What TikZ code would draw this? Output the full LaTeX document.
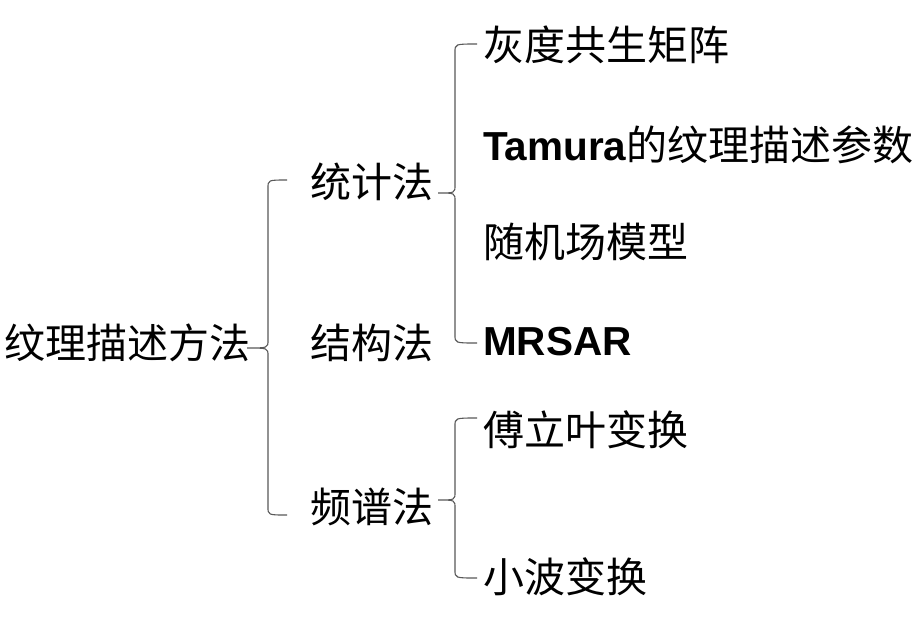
\documentclass[tikz,border=0pt]{standalone}
\usepackage{fontspec}
\setmainfont{Liberation Sans}
\newfontfamily\cjk{Noto Sans CJK SC}
\newfontfamily\latb[BoldFont={Liberation Sans Bold}]{Liberation Sans}
\newcommand\latbig{\fontsize{40.5}{40}\selectfont\latb\bfseries}
\begin{document}
\begin{tikzpicture}[x=1pt,y=-1pt,
  lbl/.style={anchor=base west,inner sep=0pt,font=\fontsize{41}{41}\selectfont\cjk},
  brace/.style={draw=black!65,line width=1.1pt}]
\useasboundingbox[fill=white] (0,0) rectangle (923,619);
\node[lbl] (root) at (4,358) {纹理描述方法};
\node[lbl] (stat) at (310,197) {统计法};
\node[lbl] (struct) at (310,358) {结构法};
\node[lbl] (spec) at (310,522) {频谱法};
\node[lbl] (glcm) at (483,60) {灰度共生矩阵};
\node[lbl] (tam) at (483,160) {{\latbig Tamura}的纹理描述参数};
\node[lbl] (rand) at (483,257) {随机场模型};
\node[lbl] (mrsar) at (483,355) {\latbig MRSAR};
\node[lbl] (four) at (483,445) {傅立叶变换};
\node[lbl] (wave) at (483,592) {小波变换};
% brace 1
\coordinate (t1) at (247,348);
\draw[brace] (287,180) .. controls (268,180) .. (268,188) -- (268,340)
  .. controls (268,348) .. (t1) .. controls (268,348) .. (268,356)
  -- (268,507) .. controls (268,515) .. (287,515);
% brace 2
\coordinate (t2) at (438,193);
\draw[brace] (477,44) .. controls (455,44) .. (455,52) -- (455,185)
  .. controls (455,193) .. (t2) .. controls (455,193) .. (455,201)
  -- (455,335) .. controls (455,343) .. (477,343);
% brace 3
\coordinate (t3) at (438,500);
\draw[brace] (477,418) .. controls (455,418) .. (455,426) -- (455,492)
  .. controls (455,500) .. (t3) .. controls (455,500) .. (455,508)
  -- (455,570) .. controls (455,578) .. (477,578);
\end{tikzpicture}
\end{document}
